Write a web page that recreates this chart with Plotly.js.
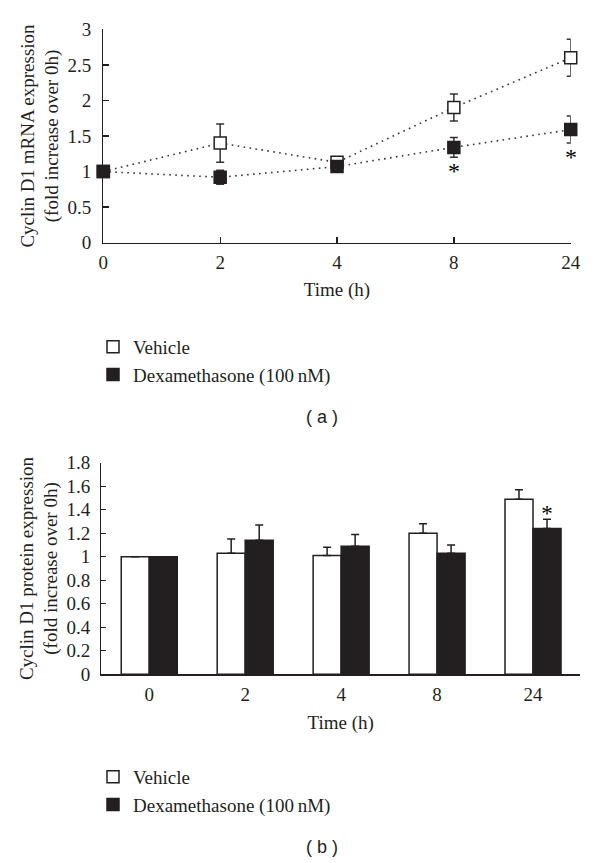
<!DOCTYPE html>
<html>
<head>
<meta charset="utf-8">
<script src="https://cdn.plot.ly/plotly-3.0.1.min.js"></script>
<style>
  html, body { margin: 0; padding: 0; background: #fff; }
  #chart { width: 600px; height: 863px; }
</style>
</head>
<body>
<div id="chart"></div>
<script>
// ---- Data ----
const timeLabels = ['0', '2', '4', '8', '24'];

// (a) Cyclin D1 mRNA expression
const mrnaVehicle    = [1.00, 1.40, 1.13, 1.90, 2.60];
const mrnaVehicleErr = [0.00, 0.27, 0.00, 0.19, 0.26];
const mrnaDex        = [1.00, 0.92, 1.07, 1.34, 1.59];
const mrnaDexErr     = [0.00, 0.10, 0.00, 0.14, 0.19];
const mrnaSig        = ['', '', '', '*', '*'];

// (b) Cyclin D1 protein expression
const protVehicle    = [1.00, 1.03, 1.01, 1.20, 1.49];
const protVehicleErr = [0.00, 0.12, 0.07, 0.08, 0.08];
const protDex        = [1.00, 1.14, 1.09, 1.03, 1.24];
const protDexErr     = [0.00, 0.13, 0.10, 0.07, 0.08];
const protSig        = ['', '', '', '', '*'];

const seriesNames = ['Vehicle', 'Dexamethasone (100\u2009nM)'];
const yTitleA = 'Cyclin D1 mRNA expression<br>(fold increase over 0h)';
const yTitleB = 'Cyclin D1 protein expression<br>(fold increase over 0h)';
const xTitle = 'Time (h)';

// ---- Styles ----
const INK = '#231f20';
const SERIF = 'Liberation Serif, Times New Roman, serif';
const SANS = 'Liberation Sans, Arial, sans-serif';
const zeros = timeLabels.map(() => 0);

const traces = [
  // dotted connecting lines (a)
  { x: timeLabels, y: mrnaVehicle, type: 'scatter', mode: 'lines', xaxis: 'x', yaxis: 'y',
    line: { color: '#333', width: 1.6, dash: '1.6px,4.4px' }, showlegend: false, hoverinfo: 'skip' },
  { x: timeLabels, y: mrnaDex, type: 'scatter', mode: 'lines', xaxis: 'x', yaxis: 'y',
    line: { color: '#333', width: 1.6, dash: '1.6px,4.4px' }, showlegend: false, hoverinfo: 'skip' },
  // markers + error bars (a)
  { x: timeLabels, y: mrnaVehicle, name: seriesNames[0], type: 'scatter', mode: 'markers',
    xaxis: 'x', yaxis: 'y', legend: 'legend', cliponaxis: false,
    marker: { symbol: 'square', size: 12, color: '#ffffff', line: { color: INK, width: 1.5 } },
    error_y: { type: 'data', array: mrnaVehicleErr, visible: true, color: '#333', thickness: 1.5, width: 4 } },
  { x: timeLabels, y: mrnaDex, name: seriesNames[1], type: 'scatter', mode: 'markers',
    xaxis: 'x', yaxis: 'y', legend: 'legend', cliponaxis: false,
    marker: { symbol: 'square', size: 12, color: INK, line: { color: INK, width: 1.5 } },
    error_y: { type: 'data', array: mrnaDexErr, visible: true, color: '#333', thickness: 1.5, width: 4 } },

  // bars (b)
  { x: timeLabels, y: protVehicle, name: seriesNames[0], type: 'bar', xaxis: 'x2', yaxis: 'y2',
    legend: 'legend2',
    marker: { color: '#ffffff', line: { color: INK, width: 1.5 } },
    error_y: { type: 'data', symmetric: false, array: protVehicleErr, arrayminus: zeros, visible: true,
               color: INK, thickness: 1.5, width: 4 } },
  { x: timeLabels, y: protDex, name: seriesNames[1], type: 'bar', xaxis: 'x2', yaxis: 'y2',
    legend: 'legend2', text: protSig, textposition: 'outside', cliponaxis: false,
    textfont: { family: SERIF, size: 23, color: '#000' },
    marker: { color: INK, line: { color: INK, width: 1.5 } },
    error_y: { type: 'data', symmetric: false, array: protDexErr, arrayminus: zeros, visible: true,
               color: INK, thickness: 1.5, width: 4 } }
];

// significance marks under the Dexamethasone error bars in (a)
// (category axes place annotations by category index)
const sigAnnotations = timeLabels
  .map((t, i) => i)
  .filter(i => mrnaSig[i] !== '')
  .map(i => ({
    text: mrnaSig[i], xref: 'x', yref: 'y', x: i, y: mrnaDex[i] - mrnaDexErr[i],
    xanchor: 'center', yanchor: 'top', yshift: 1, showarrow: false,
    font: { family: SERIF, size: 24, color: '#000' }
  }));

const axisFont = { family: SERIF, size: 19, color: INK };
const titleFont = { family: SERIF, size: 19, color: INK };

const layout = {
  width: 600, height: 863,
  margin: { l: 0, r: 0, t: 0, b: 0 },
  paper_bgcolor: '#fff', plot_bgcolor: '#fff',
  font: { family: SERIF, color: INK },
  barmode: 'group', bargap: 0.416, bargroupgap: 0,
  xaxis: {
    domain: [0.1722, 0.9512], anchor: 'y', type: 'category',
    categoryorder: 'array', categoryarray: timeLabels,
    range: [0, 4], showgrid: false, zeroline: false,
    showline: true, linecolor: INK, linewidth: 1.3,
    ticks: 'inside', ticklen: 6, tickwidth: 1.3, tickcolor: INK,
    tickfont: axisFont, ticklabelstandoff: 2,
    title: { text: xTitle, font: titleFont, standoff: 11 }
  },
  yaxis: {
    domain: [0.7188, 0.9660], anchor: 'x',
    range: [0, 3], tickvals: [0, 0.5, 1, 1.5, 2, 2.5, 3],
    showgrid: false, zeroline: false,
    showline: true, linecolor: INK, linewidth: 1.3,
    ticks: 'inside', ticklen: 6, tickwidth: 1.3, tickcolor: INK,
    tickfont: axisFont, ticklabelstandoff: 7,
    title: { text: yTitleA, font: titleFont, standoff: 3 }
  },
  xaxis2: {
    domain: [0.1688, 0.9667], anchor: 'y2', type: 'category',
    categoryorder: 'array', categoryarray: timeLabels,
    range: [-0.5, 4.49], showgrid: false, zeroline: false,
    showline: true, linecolor: INK, linewidth: 1.3,
    ticks: '', tickfont: axisFont, ticklabelstandoff: 3,
    title: { text: xTitle, font: titleFont, standoff: 11 }
  },
  yaxis2: {
    domain: [0.2187, 0.4638], anchor: 'x2',
    range: [0, 1.8], tickvals: [0, 0.2, 0.4, 0.6, 0.8, 1, 1.2, 1.4, 1.6, 1.8],
    showgrid: false, zeroline: false,
    showline: true, linecolor: INK, linewidth: 1.3,
    ticks: 'inside', ticklen: 5, tickwidth: 1.3, tickcolor: INK,
    tickfont: axisFont, ticklabelstandoff: 6,
    title: { text: yTitleB, font: titleFont, standoff: 3 }
  },
  legend: {
    x: 0.155, y: 0.6200, xanchor: 'left', yanchor: 'top',
    orientation: 'v', bgcolor: 'rgba(0,0,0,0)',
    font: { family: SERIF, size: 19, color: INK }
  },
  legend2: {
    x: 0.155, y: 0.1217, xanchor: 'left', yanchor: 'top',
    orientation: 'v', bgcolor: 'rgba(0,0,0,0)',
    font: { family: SERIF, size: 19, color: INK }
  },
  annotations: sigAnnotations.concat([
    { text: '( a )', xref: 'paper', yref: 'paper', x: 0.537, y: 1 - 416.7 / 863,
      xanchor: 'center', yanchor: 'middle', showarrow: false,
      font: { family: SANS, size: 18, color: INK } },
    { text: '( b )', xref: 'paper', yref: 'paper', x: 0.537, y: 1 - 846.7 / 863,
      xanchor: 'center', yanchor: 'middle', showarrow: false,
      font: { family: SANS, size: 18, color: INK } }
  ])
};

Plotly.newPlot('chart', traces, layout, { displayModeBar: false, staticPlot: true });
</script>
</body>
</html>
